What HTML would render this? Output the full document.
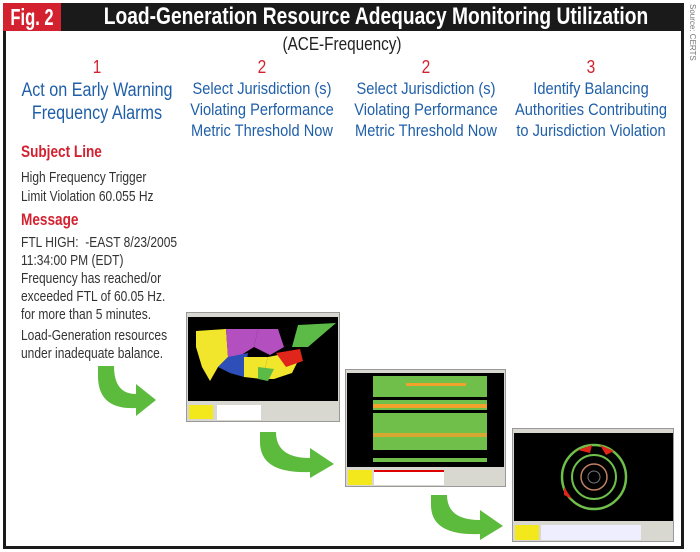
<!DOCTYPE html>
<html><head><meta charset="utf-8"><style>
*{margin:0;padding:0;box-sizing:border-box}
body{width:700px;height:552px;background:#fff;position:relative;overflow:hidden;font-family:"Liberation Sans",sans-serif}
.a{position:absolute;white-space:nowrap}
.frame{position:absolute;left:3px;top:3px;width:681px;height:546px;border:3px solid #1a1a1a}
.bar{position:absolute;left:3px;top:3px;width:681px;height:28px;background:#1a1a1a}
.fig{position:absolute;left:3px;top:3px;width:58px;height:28px;background:#d3212f}
.figt{position:absolute;left:-20px;top:3px;width:104px;height:28px;color:#fff;font:bold 23px "Liberation Sans",sans-serif;text-align:center;line-height:28px;transform:scaleX(.72);white-space:nowrap}
.title{position:absolute;left:26px;top:3px;width:700px;height:28px;color:#fff;font:bold 24px "Liberation Sans",sans-serif;text-align:center;line-height:28px;transform:scaleX(.8);white-space:nowrap}
.col{position:absolute;text-align:center;color:#1f5fa8;font-size:17px;line-height:21px;white-space:nowrap;transform:scaleX(.86)}
.num{color:#d3212f;font-size:18px}
.red{color:#d3212f;font-weight:bold;font-size:17px;transform:scaleX(.8);transform-origin:0 0}
.g{color:#333;font-size:15px;transform:scaleX(.8);transform-origin:0 0}
.shot{position:absolute;background:#d8d8d0;border:1px solid #999}
.blk{position:absolute;background:#000}
</style></head><body>
<div class="frame"></div>
<div class="bar"></div>
<div class="fig"></div>
<div class="figt">Fig. 2</div>
<div class="title">Load-Generation Resource Adequacy Monitoring Utilization</div>
<div class="a" style="left:686px;top:4px;width:12px;height:60px;"><div style="transform:rotate(90deg);transform-origin:0 0;position:absolute;left:11px;top:0;font:8px 'Liberation Sans',sans-serif;color:#777">Source: CERTS</div></div>
<div class="a" style="left:0;width:684px;top:34px;text-align:center;font-size:18px;color:#222;transform:scaleX(.85)">(ACE-Frequency)</div>

<div class="col" style="left:-3px;width:200px;top:57px;transform:scaleX(.85)"><div class="num">1</div><div style="font-size:19px;line-height:23px;margin-top:1px">Act on Early Warning<br>Frequency Alarms</div></div>
<div class="col" style="left:162px;width:200px;top:57px"><div class="num">2</div>Select Jurisdiction (s)<br>Violating Performance<br>Metric Threshold Now</div>
<div class="col" style="left:326px;width:200px;top:57px"><div class="num">2</div>Select Jurisdiction (s)<br>Violating Performance<br>Metric Threshold Now</div>
<div class="col" style="left:491px;width:200px;top:57px"><div class="num">3</div>Identify Balancing<br>Authorities Contributing<br>to Jurisdiction Violation</div>

<div class="a red" style="left:21px;top:142px">Subject Line</div>
<div class="a g" style="left:21px;top:168px;line-height:19px">High Frequency Trigger<br>Limit Violation 60.055 Hz</div>
<div class="a red" style="left:21px;top:210px">Message</div>
<div class="a g" style="left:21px;top:234px;line-height:18px">FTL HIGH:&nbsp; -EAST 8/23/2005<br>11:34:00 PM (EDT)<br>Frequency has reached/or<br>exceeded FTL of 60.05 Hz.<br>for more than 5 minutes.</div>
<div class="a g" style="left:21px;top:327px;line-height:18px">Load-Generation resources<br>under inadequate balance.</div>

<!-- screenshots -->
<div class="shot" style="left:186px;top:312px;width:154px;height:110px">
 <div class="blk" style="left:1px;top:4px;width:150px;height:84px"></div>
 <svg style="position:absolute;left:1px;top:4px" width="150" height="84">
  <path d="M8 14 L38 12 L40 40 L30 50 L22 64 L14 50 L8 30Z" fill="#f1e62b"/>
  <path d="M38 12 L70 12 L66 30 L50 40 L40 44 L30 50 L40 40Z" fill="#b44fc0"/>
  <path d="M30 50 L40 40 L60 36 L56 60 L42 56Z" fill="#2e4fb8"/>
  <path d="M70 12 L90 12 L96 30 L82 38 L66 30Z" fill="#b44fc0"/>
  <path d="M110 8 L148 6 L120 30 L104 30Z" fill="#5cba47"/>
  <path d="M56 40 L80 40 L74 62 L56 60Z" fill="#f1e62b"/>
  <path d="M80 40 L100 36 L112 40 L104 56 L86 62 L74 62Z" fill="#f1e62b"/>
  <path d="M88 36 L112 32 L115 44 L98 50Z" fill="#e0251b"/>
  <path d="M70 50 L86 52 L80 64 L70 62Z" fill="#5cba47"/>
 </svg>
 <div class="a" style="left:2px;top:92px;width:24px;height:14px;background:#f3e81c"></div>
 <div class="a" style="left:30px;top:92px;width:44px;height:15px;background:#fff"></div>
</div>
<div class="shot" style="left:345px;top:369px;width:161px;height:118px">
 <div class="blk" style="left:1px;top:3px;width:157px;height:94px"></div>
 <div class="a" style="left:27px;top:6px;width:114px;height:86px;background:#6fbf4a"></div>
 <div class="a" style="left:27px;top:27px;width:114px;height:3px;background:#000"></div>
 <div class="a" style="left:27px;top:40px;width:114px;height:3px;background:#000"></div>
 <div class="a" style="left:27px;top:80px;width:114px;height:8px;background:#000"></div>
 <div class="a" style="left:27px;top:34px;width:114px;height:4px;background:#f0a22a"></div>
 <div class="a" style="left:27px;top:63px;width:114px;height:4px;background:#f0a22a;opacity:.8"></div>
 <div class="a" style="left:60px;top:13px;width:60px;height:3px;background:#f0a22a"></div>
 <div class="a" style="left:2px;top:100px;width:24px;height:15px;background:#f3e81c"></div>
 <div class="a" style="left:28px;top:100px;width:70px;height:15px;background:#fff;border-top:2px solid #d00"></div>
</div>
<div class="shot" style="left:512px;top:428px;width:162px;height:114px">
 <div class="blk" style="left:1px;top:4px;width:159px;height:88px"></div>
 <svg style="position:absolute;left:1px;top:4px" width="159" height="88">
  <circle cx="80" cy="44" r="32" fill="none" stroke="#6fbf4a" stroke-width="2.5"/>
  <circle cx="80" cy="44" r="22" fill="none" stroke="#6fbf4a" stroke-width="2"/>
  <circle cx="80" cy="44" r="13" fill="none" stroke="#c08060" stroke-width="1.5"/>
  <circle cx="80" cy="44" r="6" fill="none" stroke="#777" stroke-width="1"/>
  <path d="M64 17 L78 12 L76 20Z M86 12 L100 18 L92 22Z M50 54 L58 66 L50 62Z" fill="#e0251b"/>
 </svg>
 <div class="a" style="left:2px;top:96px;width:24px;height:15px;background:#f3e81c"></div>
 <div class="a" style="left:28px;top:96px;width:100px;height:15px;background:#eef"></div>
</div>

<!-- arrows -->
<svg class="a" style="left:0;top:0" width="700" height="552">
 <g fill="#5cba3c">
  <path d="M98 366 L114 366 Q114 394 136 394 L136 384 L156 400 L136 416 L136 408 Q98 410 98 376Z"/>
  <path d="M260 432 L276 432 Q276 458 310 458 L310 448 L334 464 L310 478 L310 472 Q260 474 260 442Z"/>
  <path d="M431 495 L447 495 Q447 520 480 520 L480 510 L503 526 L480 540 L480 534 Q431 536 431 505Z"/>
 </g>
</svg>
</body></html>
